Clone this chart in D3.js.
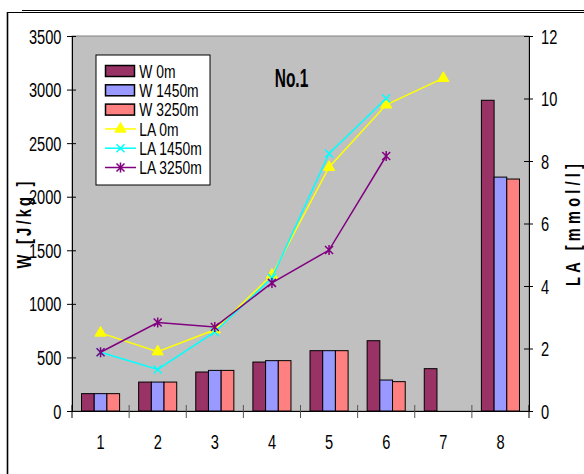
<!DOCTYPE html>
<html><head><meta charset="utf-8">
<script src="https://cdn.jsdelivr.net/npm/d3@7"></script>
<style>body{margin:0;background:#fff}svg{display:block}text{font-family:"Liberation Sans",Arial,sans-serif;fill:#000}</style>
</head><body>
<svg id="c" width="584" height="474"></svg>
<script>
const categories = ["1","2","3","4","5","6","7","8"];
const barSeries = ["W 0m","W 1450m","W 3250m"];
const W0 = [162, 270, 364, 457, 563, 656, 395, 2900];
const W1450 = [162, 270, 379, 470, 563, 289, null, 2183];
const W3250 = [162, 270, 379, 470, 563, 274, null, 2165];
const lineSeries = ["LA 0m","LA 1450m","LA 3250m"];
const LA0 = [2.5, 1.9, 2.6, 4.35, 7.8, 9.8, 10.65];
const LA1450 = [1.88, 1.33, 2.53, 4.26, 8.24, 10.0];
const LA3250 = [1.88, 2.83, 2.69, 4.1, 5.15, 8.16];
const leftTicks = [0,500,1000,1500,2000,2500,3000,3500];
const rightTicks = [0,2,4,6,8,10,12];
const title = "No.1";
const leftTitle = "W [J/kg ]";
const rightTitle = "LA [mmol/l]";

const barColors = ["#993366","#9999FF","#FF8080"];
const lineColors = ["#FFFF00","#00FFFF","#800080"];
const markers = ["triangle","x","star"];
const SX = 0.75;

const svg = d3.select("#c");
const L = 72, R = 529, T = 36, B = 411;

// outer frame
svg.append("line").attr("x1",22).attr("x2",584).attr("y1",10.5).attr("y2",10.5).attr("stroke","#000").attr("stroke-width",1);
svg.append("line").attr("x1",7).attr("x2",584).attr("y1",12.5).attr("y2",12.5).attr("stroke","#000").attr("stroke-width",1);
svg.append("line").attr("x1",7.5).attr("x2",7.5).attr("y1",12).attr("y2",474).attr("stroke","#000").attr("stroke-width",1.6);

const x = d3.scaleBand().domain(categories).range([L,R]).padding(0);
const xs = d3.scaleBand().domain(barSeries).range([0,x.bandwidth()]).paddingInner(0).paddingOuter(0.75);
const yL = d3.scaleLinear().domain([0,3500]).range([B,T]);
const yR = d3.scaleLinear().domain([0,12]).range([B,T]);

svg.append("rect").attr("x",L).attr("y",T).attr("width",R-L).attr("height",B-T).attr("fill","#C0C0C0").attr("stroke","#808080").attr("stroke-width",1);

// bars
const barData = [W0,W1450,W3250];
barData.forEach((arr,si)=>{
  svg.append("g").selectAll("rect").data(arr.map((v,i)=>({v,c:categories[i]})).filter(d=>d.v!=null))
    .join("rect")
    .attr("x",d=>x(d.c)+xs(barSeries[si]))
    .attr("y",d=>yL(d.v))
    .attr("width",xs.bandwidth())
    .attr("height",d=>yL(0)-yL(d.v))
    .attr("fill",barColors[si]).attr("stroke","#000").attr("stroke-width",1);
});

function drawMarker(g, type, cx, cy, color){
  if(type==="triangle"){
    g.append("path").attr("d",d3.symbol().type(d3.symbolTriangle).size(55)()).attr("transform",`translate(${cx},${cy})`).attr("fill",color).attr("stroke",color);
  } else if(type==="x"){
    const s=4;
    g.append("path").attr("d",`M${cx-s},${cy-s}L${cx+s},${cy+s}M${cx-s},${cy+s}L${cx+s},${cy-s}`).attr("stroke",color).attr("stroke-width",1.5).attr("fill","none");
  } else {
    const s=4;
    g.append("path").attr("d",`M${cx-s},${cy-s}L${cx+s},${cy+s}M${cx-s},${cy+s}L${cx+s},${cy-s}M${cx},${cy-s-1}L${cx},${cy+s+1}`).attr("stroke",color).attr("stroke-width",1.5).attr("fill","none");
  }
}

// lines
const lineData = [LA0,LA1450,LA3250];
lineData.forEach((arr,si)=>{
  const g = svg.append("g");
  const pts = arr.map((v,i)=>[x(categories[i])+x.bandwidth()/2, yR(v)]);
  g.append("path").attr("d",d3.line()(pts)).attr("fill","none").attr("stroke",lineColors[si]).attr("stroke-width",1.5);
  pts.forEach(p=>drawMarker(g,markers[si],p[0],p[1],lineColors[si]));
});

// axes
function condense(sel){
  sel.selectAll(".tick text").each(function(){
    const t=d3.select(this);
  });
}
const gl = svg.append("g").attr("transform",`translate(${L},0)`)
  .call(d3.axisLeft(yL).tickValues(leftTicks).tickSize(5).tickPadding(0).tickFormat(d3.format("d")));
gl.select(".domain").attr("stroke","#000");
gl.selectAll(".tick line").attr("x1",-5).attr("x2",4).attr("stroke","#000");
gl.selectAll(".tick text").attr("x",0).attr("dy",0).attr("y",0).attr("text-anchor","end")
  .style("font-size","19.5px").attr("transform",`translate(-10.5,7) scale(${SX},1)`);

const gr = svg.append("g").attr("transform",`translate(${R},0)`)
  .call(d3.axisRight(yR).tickValues(rightTicks).tickSize(4).tickPadding(0).tickFormat(d3.format("d")));
gr.select(".domain").attr("stroke","#000");
gr.selectAll(".tick line").attr("x1",-5).attr("x2",4).attr("stroke","#000");
gr.selectAll(".tick text").attr("x",0).attr("dy",0).attr("y",0).attr("text-anchor","start")
  .style("font-size","19.5px").attr("transform",`translate(12,7) scale(${SX},1)`);

const gb = svg.append("g").attr("transform",`translate(0,${B})`)
  .call(d3.axisBottom(x).tickSize(0).tickPadding(0));
gb.select(".domain").attr("stroke","#000");
gb.selectAll(".tick text").attr("y",0).attr("dy",0).attr("text-anchor","middle")
  .style("font-size","19.5px").attr("transform",`translate(0,38) scale(${SX},1)`);
// category boundary ticks
const bounds = categories.map(c=>x(c)).concat([R]);
svg.append("g").selectAll("line").data(bounds).join("line")
  .attr("x1",d=>d).attr("x2",d=>d).attr("y1",B-6).attr("y2",B+7)
  .attr("stroke",(d,i)=> (i===0||i===bounds.length-1)?"#000":"#555").attr("stroke-width",1);

// titles
svg.append("text").attr("transform",`translate(291.5,86.5) scale(0.62,1)`).attr("text-anchor","middle")
  .style("font-size","25px").style("font-weight","bold").text(title);
svg.append("text").attr("transform",`translate(31,225) rotate(-90) scale(${SX},1)`).attr("text-anchor","middle")
  .attr("textLength",87/SX).attr("lengthAdjust","spacing")
  .style("font-size","19.5px").style("font-weight","bold").text(leftTitle);
svg.append("text").attr("transform",`translate(580,225) rotate(-90) scale(${SX},1)`).attr("text-anchor","middle")
  .attr("textLength",122/SX).attr("lengthAdjust","spacing")
  .style("font-size","19.5px").style("font-weight","bold").text(rightTitle);

// legend
const lg = svg.append("g");
lg.append("rect").attr("x",96).attr("y",55).attr("width",114).attr("height",130).attr("fill","#fff").attr("stroke","#000").attr("stroke-width",1);
const legendItems = barSeries.map((s,i)=>({name:s,type:"bar",i})).concat(lineSeries.map((s,i)=>({name:s,type:"line",i})));
const ly = d3.scalePoint().domain(legendItems.map(d=>d.name)).range([71,167.5]);
legendItems.forEach(d=>{
  const cy = ly(d.name);
  if(d.type==="bar"){
    lg.append("rect").attr("x",105.5).attr("y",cy-5.5).attr("width",29).attr("height",11).attr("fill",barColors[d.i]).attr("stroke","#000").attr("stroke-width",1.5);
  } else {
    lg.append("line").attr("x1",105).attr("x2",136).attr("y1",cy).attr("y2",cy).attr("stroke",lineColors[d.i]).attr("stroke-width",1.5);
    drawMarker(lg,markers[d.i],120.5,cy,lineColors[d.i]);
  }
  lg.append("text").attr("transform",`translate(139.3,${cy+6.6}) scale(${SX},1)`).style("font-size","18.5px").text(d.name);
});
</script>
</body></html>
